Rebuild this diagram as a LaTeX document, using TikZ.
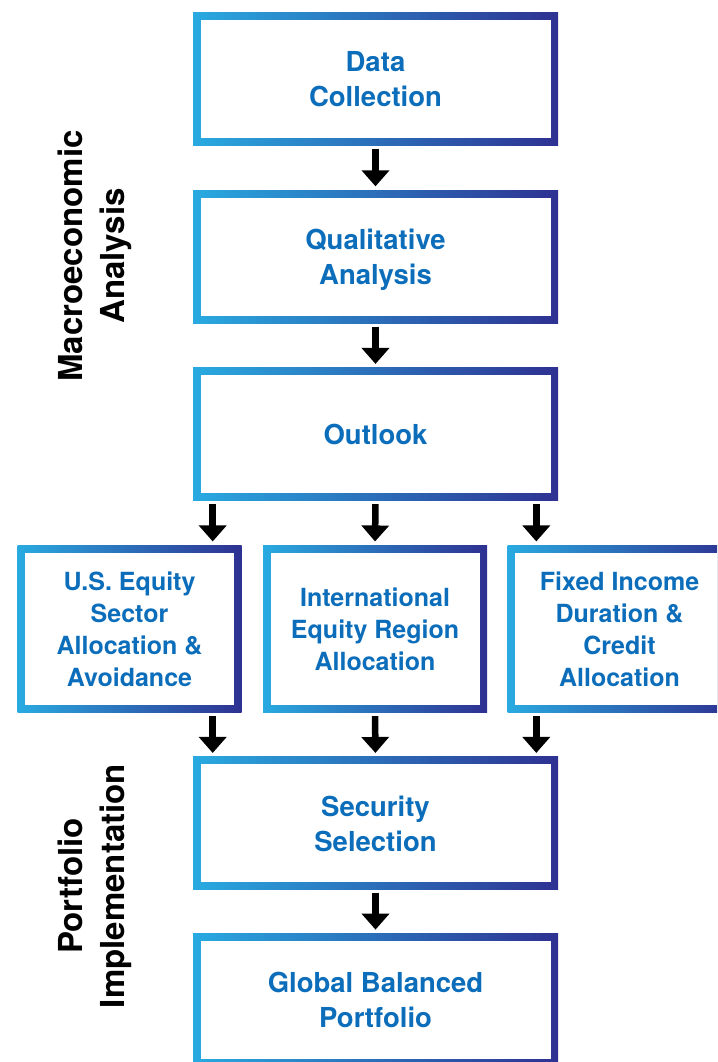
\documentclass[tikz,border=0pt]{standalone}
\usepackage{fontspec}
\setmainfont{TeX Gyre Heros}
\usetikzlibrary{arrows.meta}
\definecolor{lightblue}{RGB}{41,170,225}
\definecolor{darkblue}{RGB}{46,49,146}
\definecolor{textblue}{RGB}{12,110,186}
\tikzset{
  stage/.style={rectangle, inner sep=0pt, minimum width=365pt, minimum height=133.3pt,
    align=center, text=textblue, text depth=0pt, font=\bfseries\fontsize{27.5}{35}\selectfont,
    path picture={
      \shade[left color=lightblue, right color=darkblue]
        (path picture bounding box.south west) rectangle (path picture bounding box.north east);
      \fill[white] ([shift={(7.5pt,7.5pt)}]path picture bounding box.south west)
        rectangle ([shift={(-7.5pt,-7.5pt)}]path picture bounding box.north east);}},
  branch/.style={stage, minimum width=224pt, minimum height=167.7pt,
    font=\bfseries\fontsize{25}{32}\selectfont},
  phase/.style={rotate=90, align=center, font=\bfseries\fontsize{33}{41.5}\selectfont},
  flow/.style={-{Triangle[width=27pt,length=16pt]}, line width=6.5pt,
    shorten <=3pt, shorten >=3.5pt},
}
\begin{document}
\begin{tikzpicture}[x=1pt,y=1pt]
\useasboundingbox (0,0) rectangle (717,1062);
\clip (0,0) rectangle (717,1062);
% main chain
\node[stage] (data) at (375.5,983) {Data\\Collection};
\node[stage] (qual) at (375.5,805.3) {Qualitative\\Analysis};
\node[stage] (outlook) at (375.5,627.7) {Outlook};
% allocation row
\node[branch] (usequity) at (129.5,433) {U.S. Equity\\Sector\\Allocation \&\\Avoidance};
\node[branch] (intl) at (375,433) {International\\Equity Region\\Allocation};
\node[branch] (fixed) at (619.5,433) {Fixed Income\\Duration \&\\Credit\\Allocation};
\node[stage] (security) at (375.5,238.7) {Security\\Selection};
\node[stage] (global) at (375.5,62) {Global Balanced\\Portfolio};
% phase labels
\node[phase] (macro) at (95,806) {Macroeconomic\\Analysis};
\node[phase] (impl) at (95,176) {Portfolio\\Implementation};
% arrows
\coordinate (usin) at ([xshift=-29pt]usequity.north east);
\coordinate (usout) at ([xshift=-29pt]usequity.south east);
\coordinate (fixin) at ([xshift=29pt]fixed.north west);
\coordinate (fixout) at ([xshift=29pt]fixed.south west);
\draw[flow] (data) -- (qual);
\draw[flow] (qual) -- (outlook);
\draw[flow] (outlook.south -| usin) -- (usin);
\draw[flow] (outlook.south) -- (intl.north);
\draw[flow] (outlook.south -| fixin) -- (fixin);
\draw[flow] (usout) -- (usout |- security.north);
\draw[flow] (intl.south) -- (security.north);
\draw[flow] (fixout) -- (fixout |- security.north);
\draw[flow] (security) -- (global);
\end{tikzpicture}
\end{document}
